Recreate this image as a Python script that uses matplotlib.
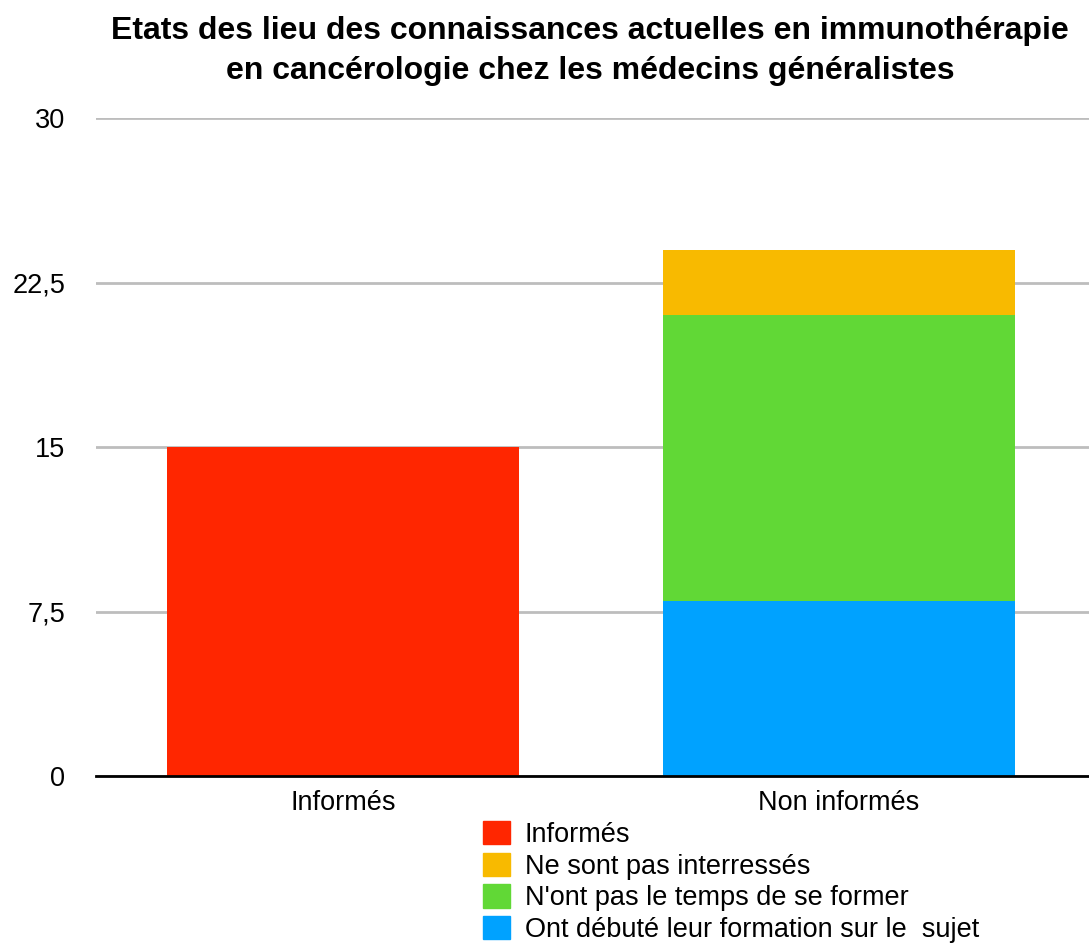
import matplotlib
matplotlib.use("Agg")
import matplotlib.pyplot as plt
from matplotlib.patches import Patch

plt.rcParams['font.family'] = ['Liberation Sans', 'DejaVu Sans']

categories = ["Informés", "Non informés"]
series_names = ["Informés", "Ne sont pas interressés", "N'ont pas le temps de se former",
                "Ont débuté leur formation sur le  sujet"]
informes = [15, 0]
debute = [0, 8]
pas_temps = [0, 13]
pas_interesses = [0, 3]
yticks = [0, 7.5, 15, 22.5, 30]
ytick_labels = ["0", "7,5", "15", "22,5", "30"]

c_red = "#FF2600"
c_yellow = "#F8BA00"
c_green = "#61D836"
c_blue = "#00A2FF"

fs = 19.5

fig = plt.figure(figsize=(10.89, 9.47), dpi=100)
ax = fig.add_axes([96/1089, 1 - 776/947, 993/1089, 658/947])

x = list(range(len(categories)))
w = 0.71
ax.bar(x, informes, w, color=c_red, zorder=3)
ax.bar(x, debute, w, color=c_blue, zorder=3)
b2 = [a for a in debute]
ax.bar(x, pas_temps, w, bottom=b2, color=c_green, zorder=3)
b3 = [a + b for a, b in zip(debute, pas_temps)]
ax.bar(x, pas_interesses, w, bottom=b3, color=c_yellow, zorder=3)

ax.set_xlim(-0.498, 1.504)
ax.set_ylim(0, 30)
ax.set_yticks(yticks)
ax.set_yticklabels(ytick_labels, fontsize=fs)
ax.set_xticks(x)
ax.set_xticklabels(categories, fontsize=fs)
ax.tick_params(axis='y', length=0, pad=22)
ax.tick_params(axis='x', length=0, pad=10)
ax.grid(axis='y', color='#BDBDBD', linewidth=2, zorder=0)
for s in ['top', 'right', 'left']:
    ax.spines[s].set_visible(False)
ax.spines['bottom'].set_linewidth(2)
ax.spines['bottom'].set_color('black')
ax.spines['bottom'].set_zorder(4)

fig.text(590/1089, 1 - 51/947, "Etats des lieu des connaissances actuelles en immunothérapie\nen cancérologie chez les médecins généralistes",
         ha='center', va='center', fontsize=23, fontweight='bold', linespacing=1.42)

handles = [Patch(color=c_red), Patch(color=c_yellow), Patch(color=c_green), Patch(color=c_blue)]
leg = fig.legend(handles, series_names, loc='upper left', bbox_to_anchor=(483/1089, 1 - 821/947),
                 frameon=False, fontsize=fs, handlelength=1.0, handleheight=0.95,
                 handletextpad=0.55, labelspacing=0.17, borderpad=0, borderaxespad=0)

fig.savefig("out.png", dpi=100)
